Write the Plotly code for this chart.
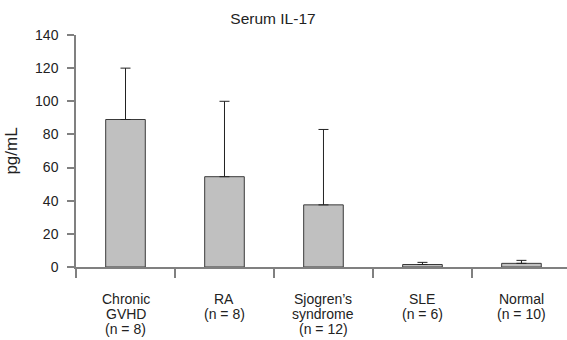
import plotly.graph_objects as go

category_lines = [
    ["Chronic", "GVHD", "(n = 8)"],
    ["RA", "(n = 8)"],
    ["Sjogren’s", "syndrome", "(n = 12)"],
    ["SLE", "(n = 6)"],
    ["Normal", "(n = 10)"],
]
categories = [" ".join(c) for c in category_lines]
means = [89, 54.5, 37.5, 1.5, 2.2]
sd_upper = [31, 45.5, 45.5, 1.3, 1.8]
y_ticks = [0, 20, 40, 60, 80, 100, 120, 140]

font_family = "Liberation Sans, Arial, sans-serif"
text_color = "#222222"

fig = go.Figure()
fig.add_trace(go.Bar(
    x=categories, y=means, width=0.4,
    marker=dict(color="#c0c0c0", line=dict(color="#3a3a3a", width=1)),
    error_y=dict(type="data", array=sd_upper, arrayminus=[0]*len(means), symmetric=False,
                 color="#222222", thickness=1, width=5),
))

for cat, lines in zip(categories, category_lines):
    for i, line in enumerate(lines):
        fig.add_annotation(x=cat, xref="x", y=0, yref="paper", text=line, showarrow=False,
                           xanchor="center", yanchor="middle", yshift=-(32 + 15 * i),
                           font=dict(size=14, color=text_color, family=font_family))

fig.update_layout(
    width=567, height=340,
    margin=dict(l=76, r=0, t=35, b=73),
    paper_bgcolor="white", plot_bgcolor="white",
    font=dict(family=font_family, size=14, color=text_color),
    title=dict(text="Serum IL-17", x=273/567, xref="container", xanchor="center",
               y=1 - 19/340, yref="container", yanchor="middle", font=dict(size=15.5)),
    showlegend=False,
)
fig.update_xaxes(
    type="category", range=[-0.5, 4.46], showline=True, linecolor="#808080", linewidth=1.5,
    ticks="outside", tickson="boundaries", ticklen=9, tickcolor="#808080", tickwidth=1.5,
    showgrid=False, showticklabels=False, automargin=False,
)
fig.update_yaxes(
    range=[0, 140], tickvals=y_ticks, showline=True, linecolor="#808080", linewidth=1.5,
    ticks="outside", ticklen=7, tickcolor="#808080", tickwidth=1.5, showgrid=False, zeroline=False,
    title=dict(text="pg/mL", standoff=13), ticklabelstandoff=6, automargin=False,
)
fig.write_html("out.html", post_script="document.body.style.margin='0';",
               config={"displayModeBar": False})
